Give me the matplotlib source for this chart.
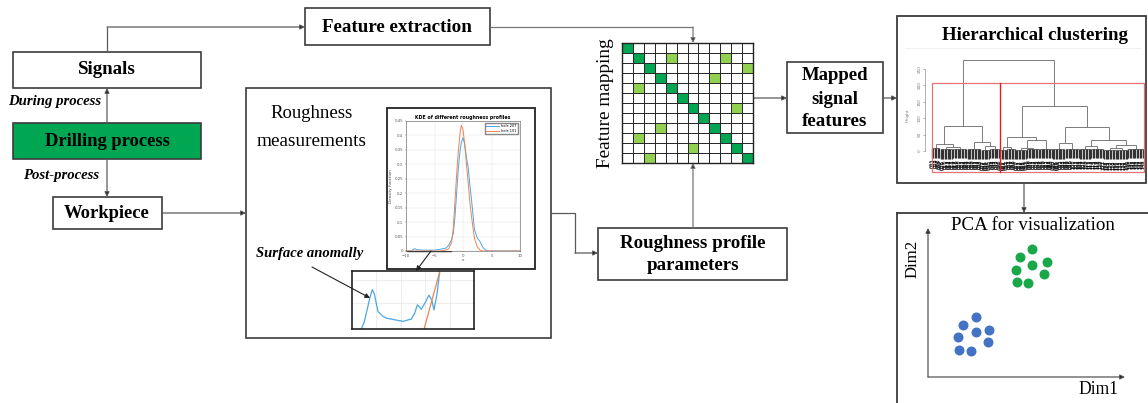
import matplotlib
matplotlib.use('Agg')
import matplotlib.pyplot as plt
from matplotlib.patches import Rectangle
from matplotlib.colors import ListedColormap
from matplotlib.collections import LineCollection
import numpy as np

# ---------------- data ----------------
# KDE of different roughness profiles (main inset)
kde_x = [-10, -9, -8.5, -8, -7, -6, -5, -4, -3, -2.5, -2, -1.7, -1.4, -1, -0.8, -0.5, -0.3, 0,
         0.3, 0.6, 0.9, 1.2, 1.5, 2, 2.5, 3, 3.5, 4, 4.5, 5, 10]
kde_hole207 = [0, 0.001, 0.008, 0.004, 0.003, 0.003, 0.003, 0.006, 0.01, 0.02, 0.04, 0.061, 0.12,
               0.234, 0.29, 0.35, 0.375, 0.392, 0.37, 0.325, 0.29, 0.23, 0.176, 0.075, 0.045,
               0.032, 0.012, 0.002, 0, 0, 0]
kde_hole101 = [0, 0, 0, 0, 0, 0, 0, 0, 0.003, 0.008, 0.03, 0.08, 0.176, 0.3, 0.35, 0.41, 0.435,
               0.42, 0.37, 0.3, 0.24, 0.17, 0.118, 0.045, 0.015, 0.003, 0, 0, 0, 0, 0]
kde_legend = ['hole 207', 'hole 101']

# magnified surface anomaly region
zoom_x_blue = [-8.93, -8.75, -8.62, -8.4, -8.25, -8.12, -8.05, -7.9, -7.6, -7.39, -6.9, -6.36,
               -5.85, -5.65, -5.48, -5.35, -5.24, -4.97, -4.77, -4.6, -4.46, -4.27, -4.11]
zoom_blue = [0.0, 0.003, 0.0068, 0.0135, 0.017, 0.015, 0.0125, 0.0075, 0.0055, 0.0047, 0.004,
             0.0033, 0.0043, 0.0068, 0.0104, 0.0095, 0.0085, 0.0118, 0.0146, 0.0125, 0.0082,
             0.0153, 0.0246]
zoom_x_orange = [-5.07, -4.6, -4.11]
zoom_orange = [0.0, 0.012, 0.0246]

# feature mapping matrix (12 x 12): diagonal = strong, listed = weak
n_feat = 12
weak_cells = [(1, 4), (1, 9), (2, 11), (3, 8), (4, 1), (6, 10), (8, 3), (9, 1), (10, 6), (11, 2)]

# hierarchical clustering tree: (height, left, right) or leaf group (n_leaves, height)
dendro_tree = (278,
               (75, (20.4, (6, 8), (12, (9, 5), (10, 6))),
                    (26.5, (10, 5), (14, (6, 4), (7, 6)))),
               (138, (42, (12, (5, 4), (6, 5)), (34, (10, (8, 4), (9, 6)), (9, 7))),
                     (74.5, (26, (9, 5), (10, 7)),
                            (33.7, (16, (8, 5), (9, 6)), (20, (8, (9, 4), (8, 3)), (12, 6))))))
dendro_ticks = [0, 50, 100, 150, 200, 250]

# PCA scatter
pca_dim1_green = [5.29, 4.69, 5.29, 6.03, 4.47, 5.89, 4.50, 5.09]
pca_dim2_green = [8.59, 8.03, 7.54, 7.72, 7.18, 6.89, 6.36, 6.31]
pca_dim1_blue = [2.42, 1.79, 2.42, 3.11, 1.54, 3.03, 1.59, 2.20]
pca_dim2_blue = [4.05, 3.49, 3.04, 3.17, 2.70, 2.37, 1.81, 1.77]

# ---------------- figure ----------------
W, H = 1148, 403
fig = plt.figure(figsize=(W / 100, H / 100), dpi=100)
ax = fig.add_axes([0, 0, 1, 1])
ax.set_xlim(0, W)
ax.set_ylim(H, 0)
ax.axis('off')
r = fig.canvas.get_renderer()

SERIF = ['Liberation Serif', 'DejaVu Serif']
EDGE = '#3c3c3c'
LINE = '#5a5a5a'
GREEN = '#00A651'
LIGHT = '#92D050'


def px_axes(x0, y0, x1, y1, z=2):
    return fig.add_axes([x0 / W, 1 - y1 / H, (x1 - x0) / W, (y1 - y0) / H], zorder=z)


def box(x0, y0, x1, y1, fc='white', lw=1.2, ec=EDGE, z=1):
    ax.add_patch(Rectangle((x0, y0), x1 - x0, y1 - y0, fc=fc, ec=ec, lw=lw, zorder=z))


def fit_text(x, y, s, wpx, rotation=0, target=None, **kw):
    target = target or ax
    t = target.text(x, y, s, fontsize=10, ha='center', va='center', family=SERIF, **kw)
    w = t.get_window_extent(r).width
    t.set_fontsize(10 * wpx / w)
    t.set_rotation(rotation)
    return t


def path(points, color=LINE, lw=0.9):
    xs = [p[0] for p in points[:-1]]
    ys = [p[1] for p in points[:-1]]
    ax.plot(xs, ys, color=color, lw=lw, zorder=4, solid_capstyle='butt')
    ax.annotate('', xy=points[-1], xytext=points[-2],
                arrowprops=dict(arrowstyle='-|>', color=color, lw=lw, mutation_scale=7,
                                shrinkA=0, shrinkB=0, fc='black'), zorder=5)


# ---- left column ----
box(13, 52, 201, 88)
fit_text(107, 70, 'Signals', 58, fontweight='bold')
box(13, 123, 201, 159, fc=GREEN)
fit_text(107, 141, 'Drilling process', 126, fontweight='bold')
box(53, 197, 162, 229)
fit_text(107, 213, 'Workpiece', 86, fontweight='bold')
fit_text(55, 101, 'During process', 93, fontweight='bold', style='italic')
fit_text(61, 175, 'Post-process', 76, fontweight='bold', style='italic')
path([(107, 123), (107, 88)])
path([(107, 159), (107, 197)])
path([(162, 213), (246, 213)])
path([(107, 52), (107, 27), (305, 27)])

# ---- feature extraction ----
box(305, 8, 490, 45)
fit_text(397, 27, 'Feature extraction', 151, fontweight='bold')
path([(490, 27), (693, 27), (693, 43)], color='#777777')

# ---- roughness measurements ----
box(246, 88, 551, 338)
fit_text(312, 114, 'Roughness', 82)
fit_text(312, 141, 'measurements', 110)
fit_text(310, 254, 'Surface anomally', 107, fontweight='bold', style='italic')
box(387, 108, 535, 269, lw=1.3, ec='#222222', z=1.5)
path([(551, 213), (575, 213), (575, 253), (598, 253)])

ak = px_axes(406, 121, 520, 251)
ak.plot(kde_x, kde_hole207, color='#4DA6E3', lw=0.7, label=kde_legend[0])
ak.plot(kde_x, kde_hole101, color='#EC8455', lw=0.7, label=kde_legend[1])
ak.set_xlim(-10, 10)
ak.set_ylim(0, 0.45)
ak.set_xticks([-10, -5, 0, 5, 10])
yt = np.round(np.arange(0, 0.451, 0.05), 2)
ak.set_yticks(yt)
ak.set_yticklabels(['0'] + [('%g' % v) for v in yt[1:]])
ak.tick_params(labelsize=2.8, length=1, width=0.3, pad=1, colors='#555555')
ak.grid(True, color='#e2e2e2', lw=0.3)
ak.set_title('KDE of different roughness profiles', fontsize=3.4, fontweight='bold', pad=1.5)
ak.set_xlabel('x', fontsize=3, labelpad=0.5, color='#444444')
ak.set_ylabel('Density function', fontsize=3, labelpad=1, color='#444444')
ak.legend(fontsize=2.5, loc='upper right', handlelength=3.5, frameon=True, borderpad=0.4,
          labelspacing=0.2, fancybox=False, edgecolor='#888888', framealpha=1)
for sp in ak.spines.values():
    sp.set_linewidth(0.4)
    sp.set_color('#555555')

# zoom rectangle on the KDE and the magnified view
ax.add_patch(Rectangle((407, 231), 44, 20, fc='none', ec='#222222', lw=1.0, zorder=6))
az = px_axes(352, 271, 474, 329, z=3)
az.plot(zoom_x_blue, zoom_blue, color='#4DA6E3', lw=0.9)
az.plot(zoom_x_orange, zoom_orange, color='#EC8455', lw=0.9)
az.set_xlim(-9.5, -2.0)
az.set_ylim(0, 0.025)
az.set_xticks(np.linspace(-9.5, -2.0, 6)[1:-1])
az.set_yticks([0.011, 0.021])
az.tick_params(length=0, labelbottom=False, labelleft=False)
az.grid(True, color='#e0e0e0', lw=0.4)
for sp in az.spines.values():
    sp.set_linewidth(1.2)
    sp.set_color('#222222')

ax2 = fig.add_axes([0, 0, 1, 1], zorder=10)
ax2.set_xlim(0, W)
ax2.set_ylim(H, 0)
ax2.axis('off')
ax2.patch.set_alpha(0)
ax2.annotate('', xy=(416, 271), xytext=(431, 251),
             arrowprops=dict(arrowstyle='-|>', color='#222222', lw=0.8, mutation_scale=7,
                             shrinkA=0, shrinkB=0))
ax2.annotate('', xy=(370, 298), xytext=(312, 267),
             arrowprops=dict(arrowstyle='-|>', color='#222222', lw=0.8, mutation_scale=7,
                             shrinkA=0, shrinkB=0))

# ---- feature mapping matrix ----
mat = np.zeros((n_feat, n_feat))
for i in range(n_feat):
    mat[i, i] = 2
for (i, j) in weak_cells:
    mat[i, j] = 1
am = px_axes(622, 43, 753, 163)
am.pcolormesh(mat, cmap=ListedColormap(['white', LIGHT, GREEN]), vmin=0, vmax=2,
              edgecolors='#2a2a2a', linewidth=0.55)
am.set_xlim(0, n_feat)
am.set_ylim(n_feat, 0)
am.set_xticks([])
am.set_yticks([])
for sp in am.spines.values():
    sp.set_linewidth(1.0)
    sp.set_color('#222222')
fit_text(605, 103, 'Feature mapping', 130, rotation=90)
path([(693, 228), (693, 163)], color='#777777')
path([(753, 98), (787, 98)])

# ---- roughness profile parameters ----
box(598, 228, 787, 280)
fit_text(693, 243, 'Roughness profile', 145, fontweight='bold')
fit_text(693, 266, 'parameters', 93, fontweight='bold')

# ---- mapped signal features ----
box(787, 62, 883, 133)
fit_text(835, 76, 'Mapped', 67, fontweight='bold')
fit_text(835, 99, 'signal', 47, fontweight='bold')
fit_text(835, 121, 'features', 66, fontweight='bold')
path([(883, 98), (897, 98)])

# ---- hierarchical clustering ----
box(897, 16, 1146, 183, lw=1.3)
fit_text(1035, 36, 'Hierarchical clustering', 187, fontweight='bold')
ax.plot([905, 1140], [48, 48], color='#eeeeee', lw=0.6, zorder=2)
ad = px_axes(925, 55, 1146, 175)
ad.set_xlim(-4.9, 150.4)
ad.set_ylim(-73, 293)
ad.patch.set_alpha(0)
hang = 27.8
tree_segs, leaf_segs, leaf_id = [], [], [0]


def draw(node, start):
    if len(node) == 2:
        n, h = node
        xs = start + np.arange(n)
        tree_segs.append([(xs[0], h), (xs[-1], h)])
        for x in xs:
            leaf_segs.append([(x, h), (x, h - hang)])
            leaf_id[0] += 1
            ad.text(x, h - hang - 4, '%03d' % leaf_id[0], rotation=90, fontsize=3.6,
                    ha='center', va='top', color='black')
        return xs.mean(), h, start + n
    h, left, right = node
    cl, hl, s = draw(left, start)
    cr, hr, s = draw(right, s)
    tree_segs.append([(cl, hl), (cl, h)])
    tree_segs.append([(cr, hr), (cr, h)])
    tree_segs.append([(cl, h), (cr, h)])
    return (cl + cr) / 2, h, s


draw(dendro_tree, 0)
ad.add_collection(LineCollection(tree_segs, colors='#666666', linewidths=0.6))
ad.add_collection(LineCollection(leaf_segs, colors='#333333', linewidths=0.95))
for k in ['top', 'right', 'bottom']:
    ad.spines[k].set_visible(False)
ad.spines['left'].set_bounds(0, 250)
ad.spines['left'].set_linewidth(0.4)
ad.spines['left'].set_color('#777777')
ad.set_xticks([])
ad.set_yticks(dendro_ticks)
ad.set_yticklabels([str(v) for v in dendro_ticks], rotation=90, va='center')
ad.tick_params(axis='y', labelsize=3.0, length=1.5, width=0.4, pad=1, colors='#777777')
ad.set_ylabel('Height', fontsize=3.0, color='#777777', labelpad=6)
ax2.add_patch(Rectangle((932, 83), 212, 89, fc='none', ec='#E57373', lw=0.9))
ax2.plot([1000, 1000], [83, 172], color='#E0201B', lw=1.0)
path([(1024, 183), (1024, 213)])

# ---- PCA ----
ax.plot([897, 897], [213, H + 5], color=EDGE, lw=1.3, zorder=1)
ax.plot([897, W + 5], [213, 213], color=EDGE, lw=1.3, zorder=1)
fit_text(1033, 225, 'PCA for visualization', 164)
ap = px_axes(928, 228, 1125, 377)
ap.set_xlim(0, 10)
ap.set_ylim(0, 10)
ap.axis('off')
ap.scatter(pca_dim1_green, pca_dim2_green, s=38, color='#18A84A', zorder=3)
ap.scatter(pca_dim1_blue, pca_dim2_blue, s=38, color='#4472C4', zorder=3)
ap.annotate('', xy=(0, 10), xytext=(0, 0),
            arrowprops=dict(arrowstyle='-|>', color='#555555', lw=0.9, mutation_scale=7,
                            shrinkA=0, shrinkB=0, fc='black'))
ap.annotate('', xy=(10, 0), xytext=(0, 0),
            arrowprops=dict(arrowstyle='-|>', color='#555555', lw=0.9, mutation_scale=7,
                            shrinkA=0, shrinkB=0, fc='black'))
fit_text(913, 259, 'Dim2', 38, rotation=90)
fit_text(1098, 390, 'Dim1', 40)

fig.savefig('out.png', dpi=100)
